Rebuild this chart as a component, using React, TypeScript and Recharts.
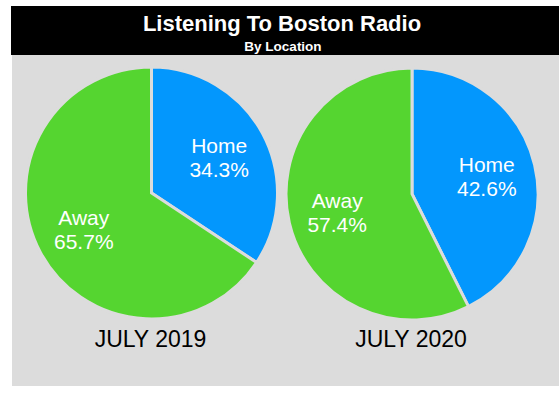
import { Cell, Pie, PieChart } from "recharts";

const locations = ["Home", "Away"];
const july2019 = [34.3, 65.7];
const july2020 = [42.6, 57.4];
const periods = ["JULY 2019", "JULY 2020"];

const colors = ["#0397FD", "#55D530"];
const panelGray = "#DCDCDC";
const font = "'Liberation Sans', Arial, Helvetica, sans-serif";
const RADIAN = Math.PI / 180;

const toRows = (values: number[]) =>
  locations.map((name, i) => ({ name, value: values[i] }));

const rows2019 = toRows(july2019);
const rows2020 = toRows(july2020);

function SliceLabel(props: any) {
  const { cx, cy, midAngle, outerRadius, name, value } = props;
  const r = outerRadius * 0.61;
  const x = cx + r * Math.cos(-midAngle * RADIAN);
  const y = cy + r * Math.sin(-midAngle * RADIAN);
  return (
    <text
      x={x}
      y={y}
      fill="#fff"
      textAnchor="middle"
      fontFamily={font}
      fontSize={21}
    >
      <tspan x={x} y={y - 4}>
        {name}
      </tspan>
      <tspan x={x} y={y + 20}>
        {Number(value).toFixed(1)}%
      </tspan>
    </text>
  );
}

export default function App() {
  return (
    <div
      style={{
        position: "absolute",
        left: 0,
        top: 0,
        width: 559,
        height: 395,
        background: "#fff",
      }}
    >
      <svg
        width={559}
        height={395}
        style={{ position: "absolute", left: 0, top: 0 }}
      >
        <rect x={11} y={6} width={548} height={49} fill="#000" />
        <rect x={12} y={55} width={547} height={331} fill={panelGray} />
        <text
          x={282}
          y={31}
          textAnchor="middle"
          fill="#fff"
          fontFamily={font}
          fontWeight="bold"
          fontSize={22}
        >
          Listening To Boston Radio
        </text>
        <text
          x={283}
          y={50.5}
          textAnchor="middle"
          fill="#fff"
          fontFamily={font}
          fontWeight="bold"
          fontSize={13.5}
        >
          By Location
        </text>
        <text
          x={150.5}
          y={347}
          textAnchor="middle"
          fill="#000"
          fontFamily={font}
          fontSize={23}
        >
          {periods[0]}
        </text>
        <text
          x={411}
          y={347}
          textAnchor="middle"
          fill="#000"
          fontFamily={font}
          fontSize={23}
        >
          {periods[1]}
        </text>
      </svg>
      <div style={{ position: "absolute", left: 0, top: 0 }}>
        <PieChart
          width={559}
          height={395}
          margin={{ top: 0, right: 0, bottom: 0, left: 0 }}
        >
          <Pie
            data={rows2019}
            dataKey="value"
            nameKey="name"
            cx={151.5}
            cy={193}
            outerRadius={126}
            startAngle={90}
            endAngle={-270}
            stroke={panelGray}
            strokeWidth={3}
            label={SliceLabel}
            labelLine={false}
            isAnimationActive={false}
          >
            {rows2019.map((row, i) => (
              <Cell key={row.name} fill={colors[i]} />
            ))}
          </Pie>
          <Pie
            data={rows2020}
            dataKey="value"
            nameKey="name"
            cx={412}
            cy={194}
            outerRadius={126}
            startAngle={90}
            endAngle={-270}
            stroke={panelGray}
            strokeWidth={3}
            label={SliceLabel}
            labelLine={false}
            isAnimationActive={false}
          >
            {rows2020.map((row, i) => (
              <Cell key={row.name} fill={colors[i]} />
            ))}
          </Pie>
        </PieChart>
      </div>
    </div>
  );
}
